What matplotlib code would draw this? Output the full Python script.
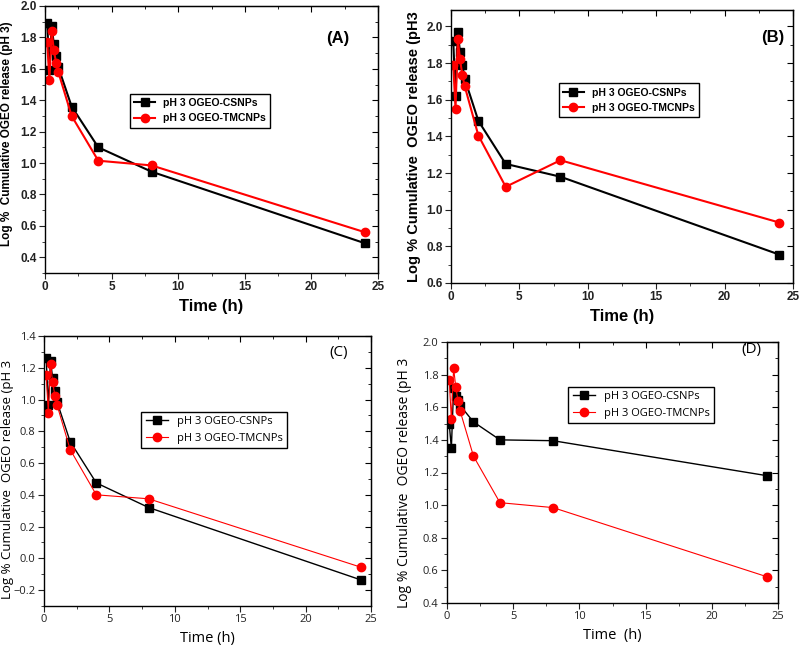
import numpy as np
import matplotlib.pyplot as plt
from matplotlib.ticker import MultipleLocator

# sampling times (h)
t = [0.166, 0.33, 0.5, 0.66, 0.83, 1.0, 2.0, 4.0, 8.0, 24.0]
t_cd = [0.166, 0.33, 0.5, 0.66, 0.83, 1.0, 2.0, 4.0, 8.0, 24.2]

# panel A
a_cs = [1.89, 1.59, 1.87, 1.76, 1.68, 1.61, 1.36, 1.10, 0.945, 0.49]
a_tmc = [1.77, 1.53, 1.84, 1.72, 1.64, 1.58, 1.30, 1.015, 0.985, 0.56]
# panel B
b_cs = [1.92, 1.62, 1.97, 1.86, 1.79, 1.715, 1.485, 1.25, 1.18, 0.755]
b_tmc = [1.79, 1.55, 1.93, 1.82, 1.735, 1.675, 1.405, 1.125, 1.27, 0.93]
# panel C
c_cs = [1.26, 0.965, 1.245, 1.135, 1.055, 0.985, 0.735, 0.475, 0.32, -0.135]
c_tmc = [1.155, 0.915, 1.225, 1.11, 1.025, 0.965, 0.685, 0.40, 0.375, -0.055]
# panel D
d_cs = [1.50, 1.35, 1.72, 1.67, 1.645, 1.61, 1.51, 1.40, 1.395, 1.18]
d_tmc = [1.77, 1.525, 1.84, 1.725, 1.64, 1.575, 1.30, 1.015, 0.985, 0.56]

lab_cs = "pH 3 OGEO-CSNPs"
lab_tmc = "pH 3 OGEO-TMCNPs"

W, H = 799, 651
fig = plt.figure(figsize=(W / 100, H / 100), dpi=100)


def px_axes(x0, y0, x1, y1):
    return fig.add_axes([x0 / W, 1 - y1 / H, (x1 - x0) / W, (y1 - y0) / H])


def style_axes(ax, ylim, bold, fam):
    ax.set_xlim(0, 25)
    ax.set_ylim(*ylim)
    ax.xaxis.set_major_locator(MultipleLocator(5))
    ax.xaxis.set_minor_locator(MultipleLocator(2.5))
    ax.yaxis.set_major_locator(MultipleLocator(0.2))
    ax.yaxis.set_minor_locator(MultipleLocator(0.1))
    ax.tick_params(which='both', direction='out', top=False, right=False,
                   labelsize=8.5 if bold else 8, colors='#222222', pad=2)
    ax.tick_params(which='major', length=4)
    ax.tick_params(which='minor', length=2.5)
    # inward ticks on top and right (Origin style)
    sec = ax.secondary_xaxis('top')
    sec.xaxis.set_major_locator(MultipleLocator(5))
    sec.xaxis.set_minor_locator(MultipleLocator(2.5))
    sec.tick_params(which='both', direction='in', labeltop=False)
    sec.tick_params(which='major', length=4)
    sec.tick_params(which='minor', length=2.5)
    sec2 = ax.secondary_yaxis('right')
    sec2.yaxis.set_major_locator(MultipleLocator(0.2))
    sec2.yaxis.set_minor_locator(MultipleLocator(0.1))
    sec2.tick_params(which='both', direction='in', labelright=False)
    sec2.tick_params(which='major', length=4)
    sec2.tick_params(which='minor', length=2.5)
    for lbl in ax.get_xticklabels() + ax.get_yticklabels():
        lbl.set_family(fam)
        lbl.set_fontweight('bold' if bold else 'normal')
    for s in ax.spines.values():
        s.set_linewidth(1.0)


def draw(ax, x, cs, tmc, lw_cs, lw_tmc, ms):
    ax.plot(x, cs, '-s', color='black', lw=lw_cs, ms=ms, label=lab_cs)
    ax.plot(x, tmc, '-o', color='red', lw=lw_tmc, ms=ms, label=lab_tmc)


bold_fam = 'Liberation Sans'
reg_fam = 'Open Sans'

# (A)
axA = px_axes(45, 6, 378, 273)
draw(axA, t, a_cs, a_tmc, 1.5, 1.5, 6)
style_axes(axA, (0.3, 2.0), True, bold_fam)
axA.set_xlabel("Time (h)", fontsize=12, fontweight='bold', family=bold_fam)
axA.set_ylabel("Log %  Cumulative OGEO release (pH 3)", fontsize=8.5,
               fontweight='bold', family=bold_fam)
axA.yaxis.set_label_coords(-0.095, 0.52)
axA.text(0.88, 0.88, "(A)", transform=axA.transAxes, fontsize=12,
         fontweight='bold', family=bold_fam, ha='center', va='center')
axA.legend(loc='upper left', bbox_to_anchor=(0.24, 0.69), fancybox=False,
           edgecolor='black', framealpha=1,
           prop={'family': bold_fam, 'weight': 'bold', 'size': 7.5})

# (B)
axB = px_axes(451, 10, 793, 283)
draw(axB, t, b_cs, b_tmc, 1.5, 1.5, 6)
style_axes(axB, (0.6, 2.09), True, bold_fam)
axB.set_xlabel("Time (h)", fontsize=12, fontweight='bold', family=bold_fam)
axB.set_ylabel("Log % Cumulative  OGEO release (pH3", fontsize=10.5,
               fontweight='bold', family=bold_fam)
axB.text(0.94, 0.9, "(B)", transform=axB.transAxes, fontsize=12,
         fontweight='bold', family=bold_fam, ha='center', va='center')
axB.legend(loc='upper left', bbox_to_anchor=(0.3, 0.75), fancybox=False,
           edgecolor='black', framealpha=1,
           prop={'family': bold_fam, 'weight': 'bold', 'size': 7.5})

# (C)
axC = px_axes(44, 336, 371, 606)
draw(axC, t_cd, c_cs, c_tmc, 1.0, 0.8, 6)
style_axes(axC, (-0.3, 1.4), False, reg_fam)
axC.set_xlabel("Time (h)", fontsize=10.5, family=reg_fam)
axC.set_ylabel("Log % Cumulative  OGEO release (pH 3", fontsize=9.5,
               family=reg_fam)
axC.yaxis.set_label_coords(-0.092, 0.47)
axC.text(0.9, 0.94, "(C)", transform=axC.transAxes, fontsize=11,
         family=reg_fam, ha='center', va='center')
axC.legend(loc='upper left', bbox_to_anchor=(0.28, 0.74), fancybox=False,
           edgecolor='black', framealpha=1,
           prop={'family': reg_fam, 'size': 8})

# (D)
axD = px_axes(447, 342, 778, 603)
draw(axD, t_cd, d_cs, d_tmc, 1.0, 0.8, 6)
style_axes(axD, (0.4, 2.0), False, reg_fam)
axD.set_xlabel("Time  (h)", fontsize=10.5, family=reg_fam)
axD.set_ylabel("Log % Cumulative  OGEO release (pH 3", fontsize=10,
               family=reg_fam)
axD.yaxis.set_label_coords(-0.105, 0.46)
axD.text(0.92, 0.97, "(D)", transform=axD.transAxes, fontsize=11,
         family=reg_fam, ha='center', va='center')
axD.legend(loc='upper left', bbox_to_anchor=(0.35, 0.85), fancybox=False,
           edgecolor='black', framealpha=1,
           prop={'family': reg_fam, 'size': 8})

plt.savefig("out.png", dpi=100)
